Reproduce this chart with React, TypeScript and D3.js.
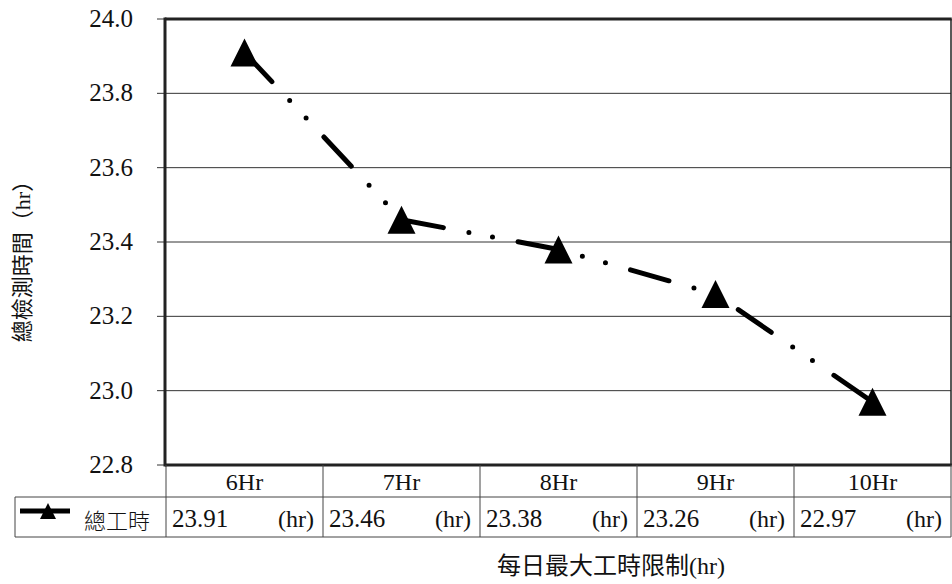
import React from 'react';
import * as d3 from 'd3';

const categories = ['6Hr', '7Hr', '8Hr', '9Hr', '10Hr'];
const values = [23.91, 23.46, 23.38, 23.26, 22.97];
const yTicks = [22.8, 23.0, 23.2, 23.4, 23.6, 23.8, 24.0];
const seriesName = '總工時';
const unitLabel = '(hr)';
const yTitle = '總檢測時間（hr）';
const xTitle = '每日最大工時限制(hr)';

const W = 952;
const H = 584;
const plotLeft = 165;
const plotRight = 951;
const plotTop = 19;
const plotBottom = 465;
const row1Bottom = 497;
const row2Bottom = 537;
const legendLeft = 15;

const SERIF = "'Liberation Serif', serif";
const MIXED = "'Liberation Serif', 'Noto Sans CJK TC', serif";
const CJK = "'Noto Sans CJK TC', 'Liberation Serif', serif";

export default function App() {
  const x = d3.scaleBand<string>().domain(categories).range([plotLeft + 1, plotRight]).padding(0);
  const y = d3.scaleLinear().domain([22.8, 24.0]).range([plotBottom, plotTop]);
  const fmt = d3.format('.1f');
  const cx = (c: string) => (x(c) as number) + x.bandwidth() / 2;

  const lineGen = d3
    .line<number>()
    .x((_, i) => cx(categories[i]))
    .y((d) => y(d));
  const linePath = lineGen(values) || '';

  const tri = (s: number) => `M0,${-s} L${s},${s} L${-s},${s} Z`;

  const legendMidY = 511;
  const rowMid2 = (row1Bottom + row2Bottom) / 2 + 2;

  return (
    <svg width={W} height={H} style={{ position: 'absolute', left: 0, top: 0, background: '#fff' }}>
      <rect x={0} y={0} width={W} height={H} fill="#fff" />
      {/* gridlines */}
      {yTicks.map((t) => (
        <g key={t}>
          <line x1={plotLeft} x2={plotRight} y1={y(t)} y2={y(t)} stroke="#333" strokeWidth={1} />
          <line x1={plotLeft - 8} x2={plotLeft} y1={y(t)} y2={y(t)} stroke="#333" strokeWidth={1} />
          <text
            x={133}
            y={y(t) + 8}
            textAnchor="end"
            fontSize={25}
            fill="#111"
            style={{ fontFamily: SERIF }}
          >
            {fmt(t)}
          </text>
        </g>
      ))}
      {/* plot frame */}
      <line x1={plotRight} x2={plotRight} y1={plotTop} y2={plotBottom} stroke="#222" strokeWidth={1.5} />
      <line x1={plotLeft} x2={plotRight + 0.75} y1={plotTop} y2={plotTop} stroke="#222" strokeWidth={3} />
      <line x1={plotLeft} x2={plotLeft} y1={plotTop - 1.5} y2={plotBottom + 1.5} stroke="#222" strokeWidth={3} />
      <line x1={plotLeft} x2={plotRight + 0.75} y1={plotBottom} y2={plotBottom} stroke="#222" strokeWidth={3} />

      {/* series line */}
      <path
        d={linePath}
        fill="none"
        stroke="#000"
        strokeWidth={5}
        strokeLinecap="round"
        strokeDasharray="40 26 0 24 0 26"
      />
      {values.map((v, i) => (
        <path key={i} d={tri(14)} transform={`translate(${cx(categories[i])},${y(v)})`} fill="#000" />
      ))}

      {/* data table */}
      <line x1={legendLeft} x2={plotRight} y1={row1Bottom} y2={row1Bottom} stroke="#444" strokeWidth={1} />
      <line x1={legendLeft} x2={plotRight} y1={row2Bottom} y2={row2Bottom} stroke="#444" strokeWidth={1} />
      <line x1={legendLeft} x2={legendLeft} y1={row1Bottom} y2={row2Bottom} stroke="#444" strokeWidth={1} />
      <line x1={plotLeft + 1} x2={plotLeft + 1} y1={plotBottom} y2={row2Bottom} stroke="#444" strokeWidth={1} />
      {categories.map((c, i) => {
        const x0 = x(c) as number;
        const x1 = x0 + x.bandwidth();
        return (
          <g key={c}>
            <line x1={x1} x2={x1} y1={plotBottom} y2={row2Bottom} stroke="#444" strokeWidth={1} />
            <text
              x={cx(c)}
              y={(plotBottom + row1Bottom) / 2 + 9}
              textAnchor="middle"
              fontSize={24}
              fill="#111"
              style={{ fontFamily: SERIF }}
            >
              {c}
            </text>
            <text x={x0 + 6} y={rowMid2 + 8} fontSize={25} fill="#111" style={{ fontFamily: SERIF }}>
              {values[i].toFixed(2)}
            </text>
            <text x={x1 - 9} y={rowMid2 + 8} textAnchor="end" fontSize={24} fill="#111" style={{ fontFamily: SERIF }}>
              {unitLabel}
            </text>
          </g>
        );
      })}
      {/* legend */}
      <line x1={20} x2={70} y1={legendMidY} y2={legendMidY} stroke="#000" strokeWidth={5} />
      <path d={tri(8)} transform={`translate(${48},${legendMidY})`} fill="#000" />
      <text
        x={84}
        y={rowMid2}
        dominantBaseline="central"
        fontSize={22}
        fill="#111"
        style={{ fontFamily: CJK, fontWeight: 300 }}
      >
        {seriesName}
      </text>

      {/* axis titles */}
      <text
        x={611}
        y={566}
        textAnchor="middle"
        dominantBaseline="central"
        fontSize={24}
        fill="#111"
        style={{ fontFamily: MIXED }}
      >
        {xTitle}
      </text>
      <text
        transform={`translate(22,256) rotate(-90)`}
        textAnchor="middle"
        dominantBaseline="central"
        fontSize={22}
        fill="#111"
        style={{ fontFamily: MIXED }}
      >
        {yTitle}
      </text>
    </svg>
  );
}
